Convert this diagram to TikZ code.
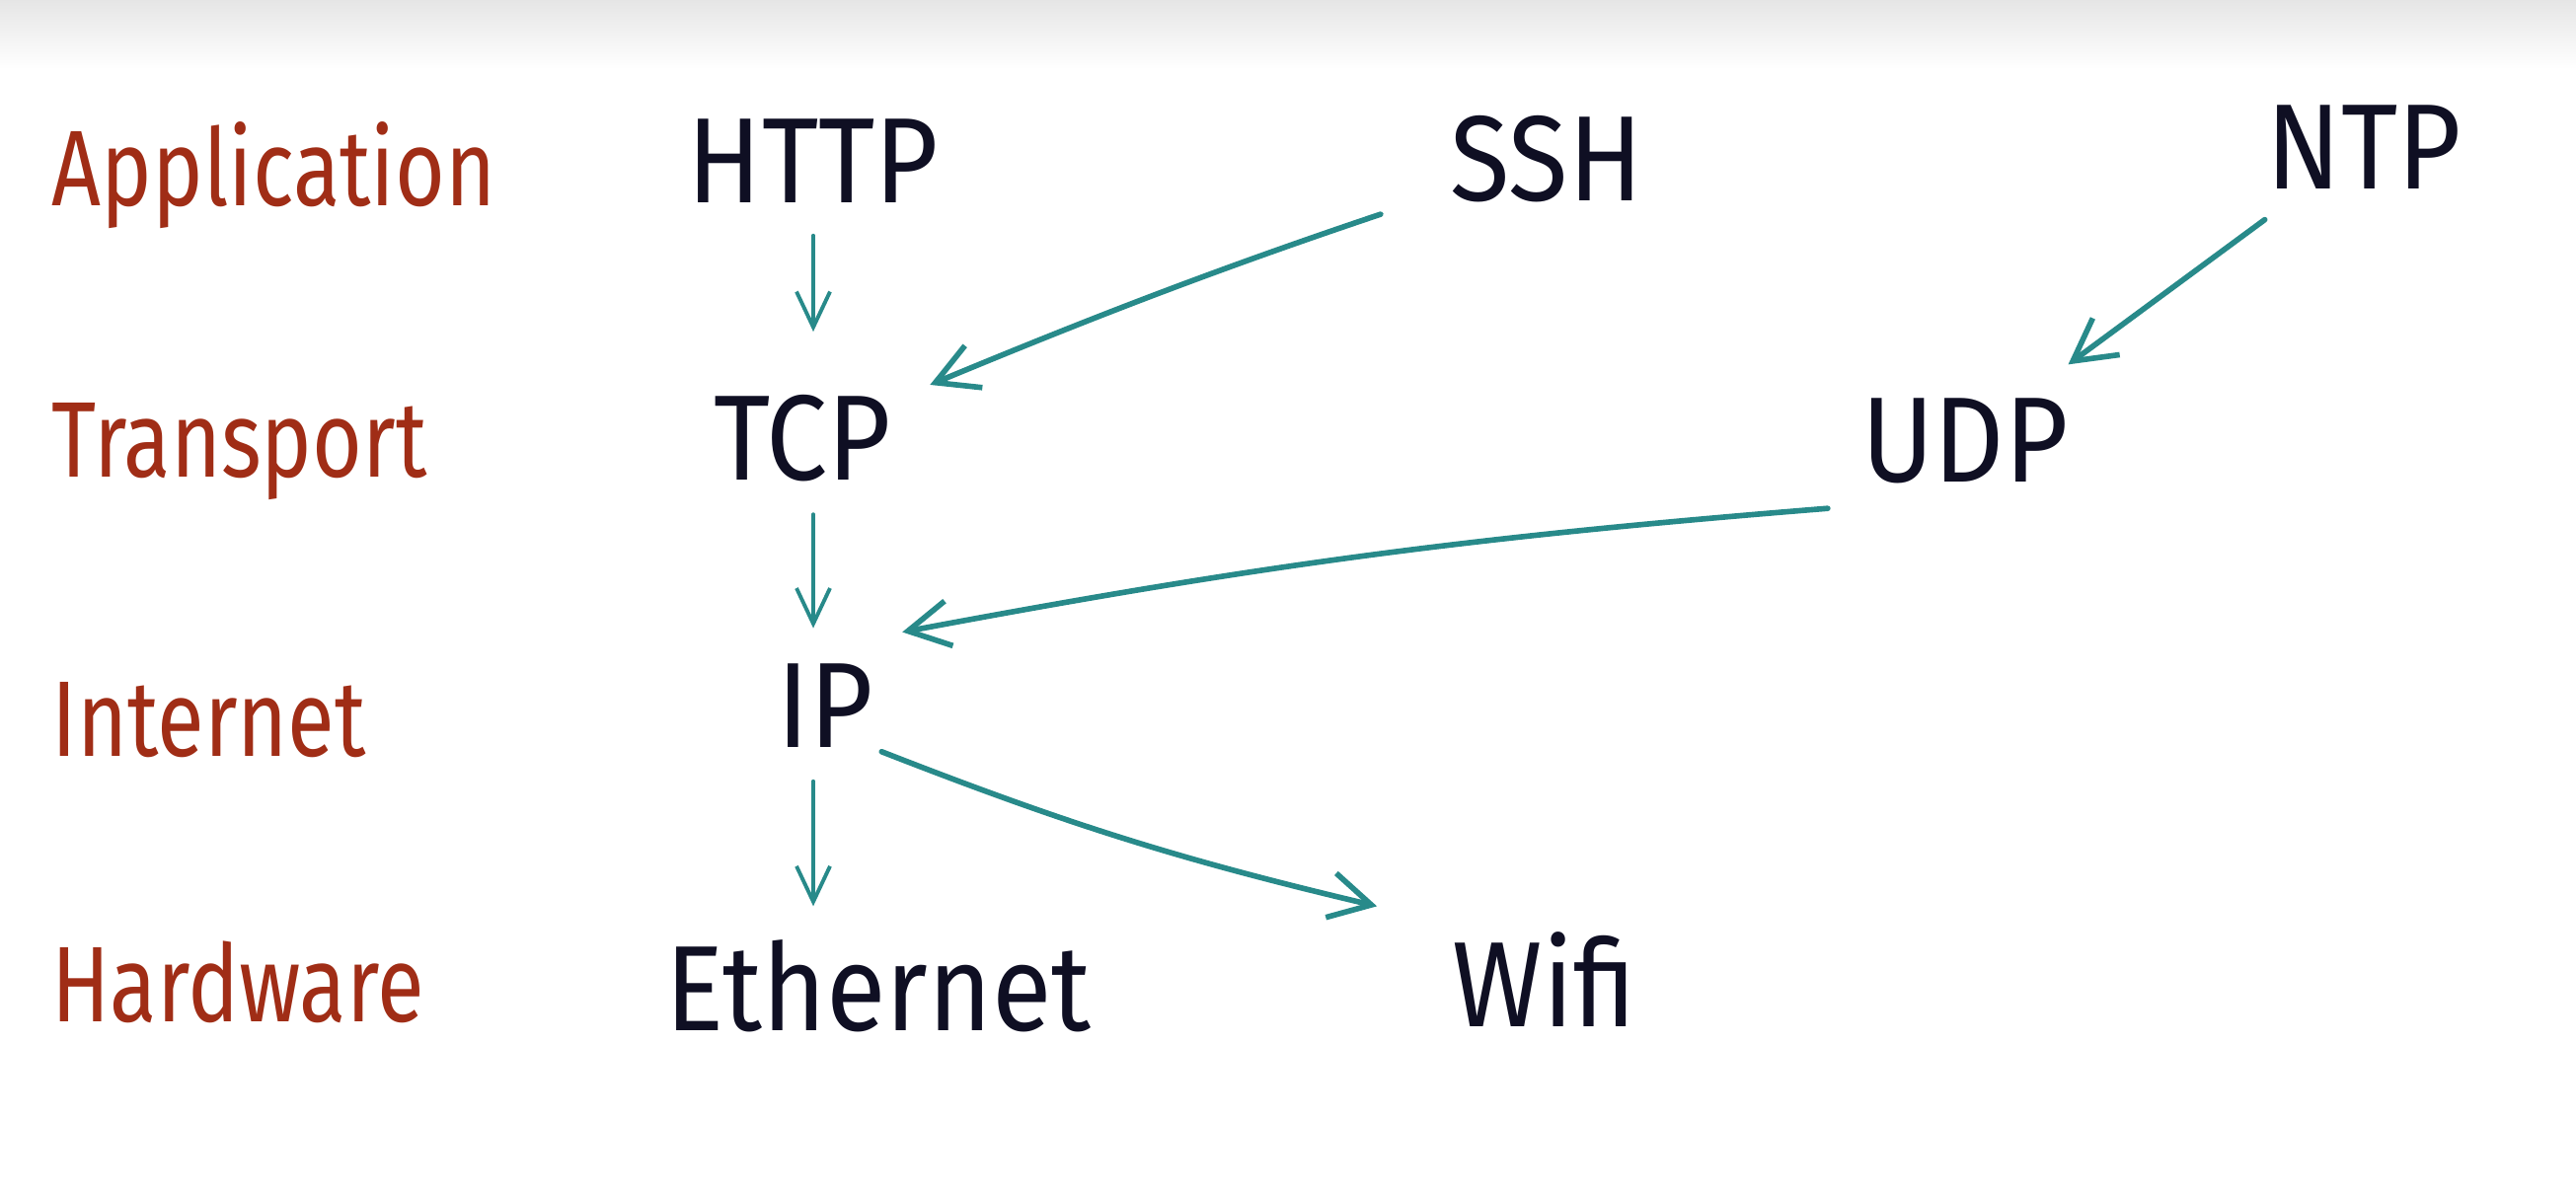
\documentclass[tikz,border=0pt]{standalone}
\usepackage{fontspec}
\setmainfont{Fira Sans}[FakeStretch=0.9]
\newfontfamily\layerfont{Fira Sans}[FakeStretch=0.8]
\usetikzlibrary{arrows.meta, positioning}
\definecolor{layerred}{RGB}{160,45,22}
\definecolor{protoink}{RGB}{15,15,35}
\definecolor{linkteal}{RGB}{40,138,138}

\begin{document}
\begin{tikzpicture}[
          layer/.style={anchor=base west, inner sep=0pt, text=layerred, font=\layerfont\fontsize{31}{36}\selectfont},
          proto/.style={anchor=base, inner sep=0pt, text=protoink, font=\fontsize{35}{40}\selectfont},
          arrow/.style={-{Straight Barb[length=4.2mm, width=4.6mm]}, line width=1.6pt, color=linkteal, line cap=round},
          vert/.style={arrow, line width=1.1pt, -{Straight Barb[length=3.6mm, width=3.4mm]}}]

        \fill[white] (0,0) rectangle (26.1,-12.08);
        \shade[top color=black!10, bottom color=white] (0,0) rectangle (26.1,-0.7);
        \useasboundingbox (0,0) rectangle (26.1,-12.08);

        \node [layer] (app) at (0.52,-2.08) {Application};
        \node [layer] (trans) at (0.52,-4.83) {Transport};
        \node [layer] (inet) at (0.52,-7.66) {Internet};
        \node [layer] (hw) at (0.52,-10.35) {Hardware};

        \node [proto] (http) at (8.24,-2.05) {HTTP};
        \node [proto] (ssh) at (15.67,-2.03) {SSH};
        \node [proto] (ntp) at (23.95,-1.91) {NTP};
        \node [proto] (tcp) at (8.13,-4.86) {TCP};
        \node [proto] (udp) at (19.91,-4.88) {UDP};
        \node [proto] (ip) at (8.36,-7.57) {IP};
        \node [proto] (eth) at (8.90,-10.44) {Ethernet};
        \node [proto] (wifi) at (15.65,-10.40) {Wifi};

        \draw [vert, shorten <=3.3mm, shorten >=6.3mm] (http.south) -- (http.south |- tcp.north);
        \draw [arrow, shorten <=7.4mm, shorten >=4.2mm] (ssh) to[bend right=2] (tcp);
        \draw [arrow, shorten <=5.2mm, shorten >=5.6mm] (ntp) -- (udp);
        \draw [vert, shorten <=3.3mm, shorten >=3.5mm] (tcp.south -| http.south) -- (http.south |- ip.north);
        \draw [arrow] ([shift={(-0.34,-0.25)}]udp.south west) to[bend right=3] ([shift={(0.29,0.31)}]ip.north east);
        \draw [vert, shorten <=3.4mm, shorten >=3.3mm] (ip.south -| http.south) -- (http.south |- eth.north);
        \draw [arrow] ([shift={(0.08,-0.04)}]ip.south east) to[bend right=4] ([shift={(-0.76,0.25)}]wifi.north west);
      \end{tikzpicture}
\end{document}
